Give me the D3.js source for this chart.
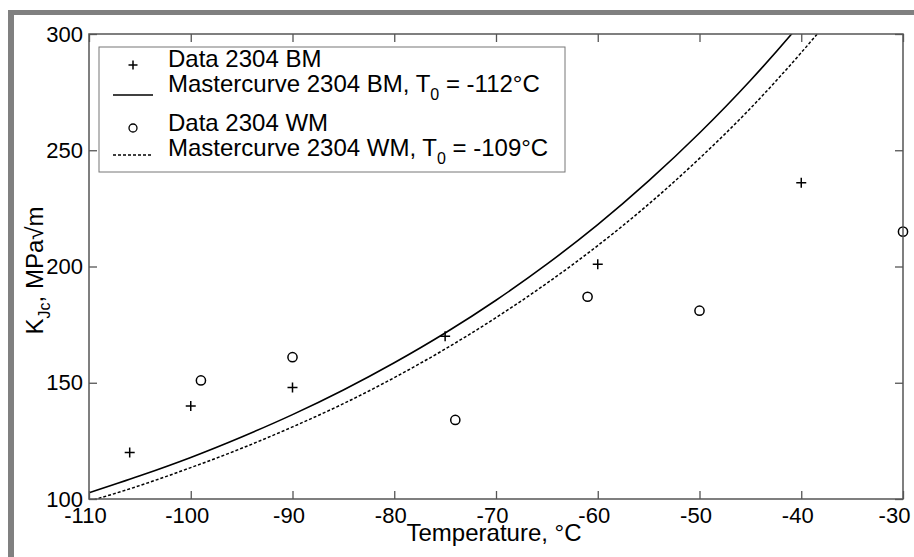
<!DOCTYPE html>
<html>
<head>
<meta charset="utf-8">
<script src="https://cdn.jsdelivr.net/npm/d3@7"></script>
<style>
  body { margin: 0; background: #fff; }
  svg text { font-family: "Liberation Sans", Arial, sans-serif; fill: #000; }
</style>
</head>
<body>
<svg id="chart" width="914" height="557"></svg>
<script>
// measured data points (temperature in °C, K_Jc in MPa√m)
const bmTemp = [-106, -100, -90, -75, -60, -40];
const bmK = [120, 140, 148, 170, 201, 236];
const wmTemp = [-99, -90, -74, -61, -50, -30];
const wmK = [151, 161, 134, 187, 181, 215];

// master curves, every 5 °C
const curveTemp = [-110, -105, -100, -95, -90, -85, -80, -75, -70, -65, -60, -55, -50, -45, -40, -35];
const bmCurveK = [102.7, 110.0, 117.9, 126.7, 136.3, 146.9, 158.6, 171.4, 185.5, 201.0, 218.0, 236.8, 257.4, 280.0, 304.9, 332];
const wmCurveK = [99, 105.8, 113.5, 121.8, 131, 141, 152.2, 164.5, 178, 192.8, 209, 226.8, 246.5, 268, 292, 318];

const xTicks = [-110, -100, -90, -80, -70, -60, -50, -40, -30];
const yTicks = [100, 150, 200, 250, 300];

const margin = { top: 34, right: 11, bottom: 58, left: 89 };
const totalWidth = 914;
const totalHeight = 557;
const width = totalWidth - margin.left - margin.right;
const height = totalHeight - margin.top - margin.bottom;
const axisColor = '#555';

const root = d3.select('#chart');

// grey frame of the scanned figure
root.append('rect').attr('x', 8).attr('y', 10).attr('width', 906).attr('height', 5).attr('fill', '#808080');
root.append('rect').attr('x', 8).attr('y', 10).attr('width', 6).attr('height', 547).attr('fill', '#808080');

const svg = root.append('g')
  .attr('transform', `translate(${margin.left}, ${margin.top})`);

const x = d3.scaleLinear().domain([-110, -30]).range([0, width]);
const y = d3.scaleLinear().domain([100, 300]).range([height, 0]);

svg.append('clipPath').attr('id', 'plot')
  .append('rect').attr('width', width).attr('height', height);

const line = d3.line()
  .x(d => x(d[0]))
  .y(d => y(d[1]))
  .curve(d3.curveMonotoneX);

svg.append('path')
  .datum(d3.zip(curveTemp, bmCurveK))
  .attr('clip-path', 'url(#plot)')
  .attr('fill', 'none').attr('stroke', '#000').attr('stroke-width', 1.6)
  .attr('d', line);

svg.append('path')
  .datum(d3.zip(curveTemp, wmCurveK))
  .attr('clip-path', 'url(#plot)')
  .attr('fill', 'none').attr('stroke', '#000').attr('stroke-width', 1.5)
  .attr('stroke-dasharray', '3,2')
  .attr('d', line);

const plus = (g, cx, cy, s) => g.append('path')
  .attr('d', `M${cx - s},${cy}H${cx + s}M${cx},${cy - s}V${cy + s}`)
  .attr('stroke', '#000').attr('stroke-width', 1.5).attr('fill', 'none');

d3.zip(bmTemp, bmK).forEach(d => plus(svg, x(d[0]), y(d[1]), 5));

svg.selectAll('circle.wm')
  .data(d3.zip(wmTemp, wmK))
  .join('circle')
    .attr('class', 'wm')
    .attr('cx', d => x(d[0]))
    .attr('cy', d => y(d[1]))
    .attr('r', 4.6)
    .attr('fill', 'none').attr('stroke', '#000').attr('stroke-width', 1.5);

// box axes with inward ticks
const styleAxis = g => {
  g.select('.domain').remove();
  g.selectAll('line').attr('stroke', axisColor).attr('stroke-width', 1.3);
  g.selectAll('text').attr('font-size', 22).attr('fill', '#000')
    .style('font-family', '"Liberation Sans", Arial, sans-serif');
};

const xAxis = svg.append('g')
  .attr('transform', `translate(0, ${height})`)
  .call(d3.axisBottom(x).tickValues(xTicks).tickSizeInner(-8).tickSizeOuter(0)
    .tickPadding(8).tickFormat(d => String(d)))
  .call(styleAxis);
xAxis.selectAll('text').attr('dx', (d, i) => i === xTicks.length - 1 ? -9 : -4);

svg.append('g')
  .call(d3.axisTop(x).tickValues(xTicks).tickSizeInner(-8).tickSizeOuter(0).tickFormat(''))
  .call(styleAxis);

svg.append('g')
  .call(d3.axisLeft(y).tickValues(yTicks).tickSizeInner(-8).tickSizeOuter(0)
    .tickPadding(6).tickFormat(d => String(d)))
  .call(styleAxis);

svg.append('g')
  .attr('transform', `translate(${width}, 0)`)
  .call(d3.axisRight(y).tickValues(yTicks).tickSizeInner(-8).tickSizeOuter(0).tickFormat(''))
  .call(styleAxis);

svg.append('rect')
  .attr('width', width).attr('height', height)
  .attr('fill', 'none').attr('stroke', axisColor).attr('stroke-width', 1.5);

// axis titles
svg.append('text')
  .attr('x', width / 2 - 2).attr('y', height + 42)
  .attr('text-anchor', 'middle').attr('font-size', 24)
  .text('Temperature, °C');

const yl = svg.append('text')
  .attr('transform', `translate(-46, ${height / 2 + 4}) rotate(-90)`)
  .attr('text-anchor', 'middle').attr('font-size', 24);
yl.append('tspan').text('K');
yl.append('tspan').attr('font-size', 16).attr('dy', 7).text('Jc');
yl.append('tspan').attr('dy', -7).text(', MPa√m');

// legend
const legend = svg.append('g').attr('transform', 'translate(10, 13)');
legend.append('rect')
  .attr('width', 466).attr('height', 125)
  .attr('fill', '#fff').attr('stroke', '#777').attr('stroke-width', 1);

plus(legend, 34, 18, 4.5);
legend.append('line').attr('x1', 14).attr('x2', 54).attr('y1', 48).attr('y2', 48)
  .attr('stroke', '#000').attr('stroke-width', 1.5);
legend.append('circle').attr('cx', 34).attr('cy', 81).attr('r', 4)
  .attr('fill', 'none').attr('stroke', '#000').attr('stroke-width', 1.3);
legend.append('line').attr('x1', 14).attr('x2', 54).attr('y1', 108).attr('y2', 108)
  .attr('stroke', '#000').attr('stroke-width', 1.4).attr('stroke-dasharray', '3,2');

const entries = [
  { text: 'Data 2304 BM', y: 20 },
  { text: 'Mastercurve 2304 BM, T', sub: '0', rest: ' = -112°C', y: 45 },
  { text: 'Data 2304 WM', y: 84 },
  { text: 'Mastercurve 2304 WM, T', sub: '0', rest: ' = -109°C', y: 109 }
];
entries.forEach(e => {
  const t = legend.append('text').attr('x', 69).attr('y', e.y).attr('font-size', 24);
  t.append('tspan').text(e.text);
  if (e.sub) {
    t.append('tspan').attr('font-size', 16).attr('dy', 8).text(e.sub);
    t.append('tspan').attr('dy', -8).text(e.rest);
  }
});
</script>
</body>
</html>
